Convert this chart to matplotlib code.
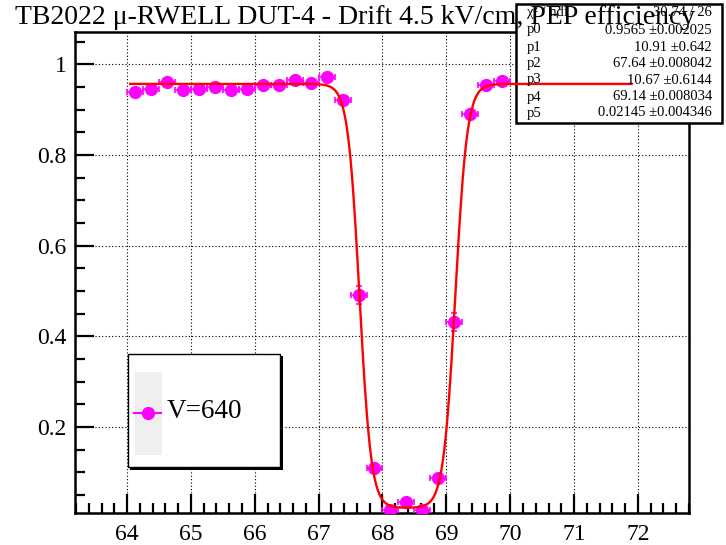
import numpy as np
import matplotlib
matplotlib.use("Agg")
import matplotlib.pyplot as plt
from matplotlib.patches import Rectangle
from matplotlib.lines import Line2D
from matplotlib.ticker import MultipleLocator

# ---------------- data ----------------
x_vals = [64.125, 64.375, 64.625, 64.875, 65.125, 65.375, 65.625, 65.875,
          66.125, 66.375, 66.625, 66.875, 67.125, 67.375, 67.625, 67.875,
          68.125, 68.375, 68.625, 68.875, 69.125, 69.375, 69.625, 69.875]
eff_vals = [0.938, 0.945, 0.960, 0.942, 0.945, 0.950, 0.944, 0.946,
            0.955, 0.955, 0.966, 0.958, 0.971, 0.920, 0.491, 0.110,
            0.016, 0.035, 0.018, 0.088, 0.432, 0.891, 0.955, 0.964]
eff_err = [0.006, 0.006, 0.006, 0.006, 0.006, 0.006, 0.006, 0.006,
           0.006, 0.006, 0.006, 0.006, 0.006, 0.008, 0.020, 0.010,
           0.005, 0.006, 0.005, 0.009, 0.020, 0.009, 0.006, 0.006]
x_half_width = 0.125

fit_names = ["p0", "p1", "p2", "p3", "p4", "p5"]
fit_values = [0.9565, 10.91, 67.64, 10.67, 69.14, 0.02145]
fit_errors = ["0.002025", "0.642", "0.008042", "0.6144", "0.008034", "0.004346"]
fit_value_text = ["0.9565", "10.91", "67.64", "10.67", "69.14", "0.02145"]
fit_range = (64.05, 71.9)
chi2_text = "30.74 / 26"
legend_label = "V=640"
title = "TB2022 \u03bc-RWELL DUT-4 - Drift 4.5 kV/cm, PEP efficiency"


def fit_func(x, p):
    p0, p1, p2, p3, p4, p5 = p
    s1 = 1.0 / (1.0 + np.exp(-p1 * (x - p2)))
    s2 = 1.0 / (1.0 + np.exp(p3 * (x - p4)))
    return p0 - (p0 - p5) * s1 * s2


# ---------------- figure ----------------
plt.rcParams['font.family'] = ['Liberation Serif', 'DejaVu Serif']
fig = plt.figure(figsize=(7.26, 5.45), dpi=100)
ax = fig.add_axes([75 / 726, 1 - 513 / 545, (689 - 75) / 726, (513 - 32) / 545])

ax.set_xlim(63.185, 72.8)
ax.set_ylim(0.0103, 1.071)

ax.xaxis.set_major_locator(MultipleLocator(1))
ax.xaxis.set_minor_locator(MultipleLocator(0.2))
ax.yaxis.set_major_locator(MultipleLocator(0.2))
ax.yaxis.set_minor_locator(MultipleLocator(0.05))
ax.tick_params(axis='both', which='major', direction='in', length=14, width=1.6,
               labelsize=17, top=False, right=False)
ax.tick_params(axis='both', which='minor', direction='in', length=7, width=1.6,
               top=False, right=False)
ax.tick_params(axis='x', which='major', pad=8)
ax.tick_params(axis='y', which='major', pad=6)
ax.set_yticks([0.2, 0.4, 0.6, 0.8, 1.0])
ax.set_yticklabels(["0.2", "0.4", "0.6", "0.8", "1"])
for s in ax.spines.values():
    s.set_linewidth(1.8)
ax.grid(True, which='major', color='black', linestyle=(0, (1, 2)), linewidth=0.8)
ax.set_axisbelow(True)

# data
ax.errorbar(x_vals, eff_vals, xerr=x_half_width, yerr=eff_err, fmt='o',
            color='#ff00ff', ecolor='#ff00ff', markersize=8.5, elinewidth=1.2,
            capsize=2.5, capthick=1.2, zorder=3, clip_on=True)

# stats box (drawn under the fit line)
box = Rectangle((516, 545 - 123), 722 - 516, 123 - 4, transform=None,
                facecolor='white', edgecolor='black', linewidth=1.8, zorder=4)
ax.add_artist(box)
box.set_clip_on(False)

# fit curve
xf = np.linspace(fit_range[0], fit_range[1], 800)
ax.plot(xf, fit_func(xf, fit_values), color='#ff0000', linewidth=1.7, zorder=5)

# stats text
line_y = [12, 30, 47, 63, 80, 97, 113]
names = ["\u03c7\u00b2 / ndf"] + fit_names
vals = [chi2_text] + [f"{v} \u00b1{e}" for v, e in zip(fit_value_text, fit_errors)]
for yy, n, v in zip(line_y, names, vals):
    fig.text(527 / 726, 1 - yy / 545, n, ha='left', va='center', fontsize=10.5, zorder=6)
    fig.text(712 / 726, 1 - yy / 545, v, ha='right', va='center', fontsize=10.5, zorder=6)

# legend box
shadow = Rectangle((130, 545 - 470), 282 - 129, 470 - 356, transform=None,
                   facecolor='black', edgecolor='none', zorder=6)
ax.add_artist(shadow)
shadow.set_clip_on(False)
lbox = Rectangle((128, 545 - 467), 280 - 128, 467 - 354, transform=None,
                 facecolor='white', edgecolor='black', linewidth=1.0, zorder=7)
ax.add_artist(lbox)
lbox.set_clip_on(False)
gbox = Rectangle((135, 545 - 455), 162 - 135, 455 - 372, transform=None,
                 facecolor='#efefef', edgecolor='none', zorder=8)
ax.add_artist(gbox)
gbox.set_clip_on(False)
lm = Line2D([134 / 726, 161 / 726], [1 - 413 / 545, 1 - 413 / 545], transform=fig.transFigure,
            color='#ff00ff', linewidth=1.5, marker=None, zorder=9)
fig.add_artist(lm)
lm2 = Line2D([148 / 726], [1 - 413 / 545], transform=fig.transFigure,
             color='#ff00ff', marker='o', markersize=8.5, linestyle='none', zorder=9)
fig.add_artist(lm2)
fig.text(167 / 726, 1 - 412 / 545, legend_label, ha='left', va='center', fontsize=19.5, zorder=10)

# title (drawn above stats box)
fig.text(355 / 726, 1 - 17 / 545, title, ha='center', va='center', fontsize=20, zorder=20)

fig.savefig("out.png", dpi=100)
